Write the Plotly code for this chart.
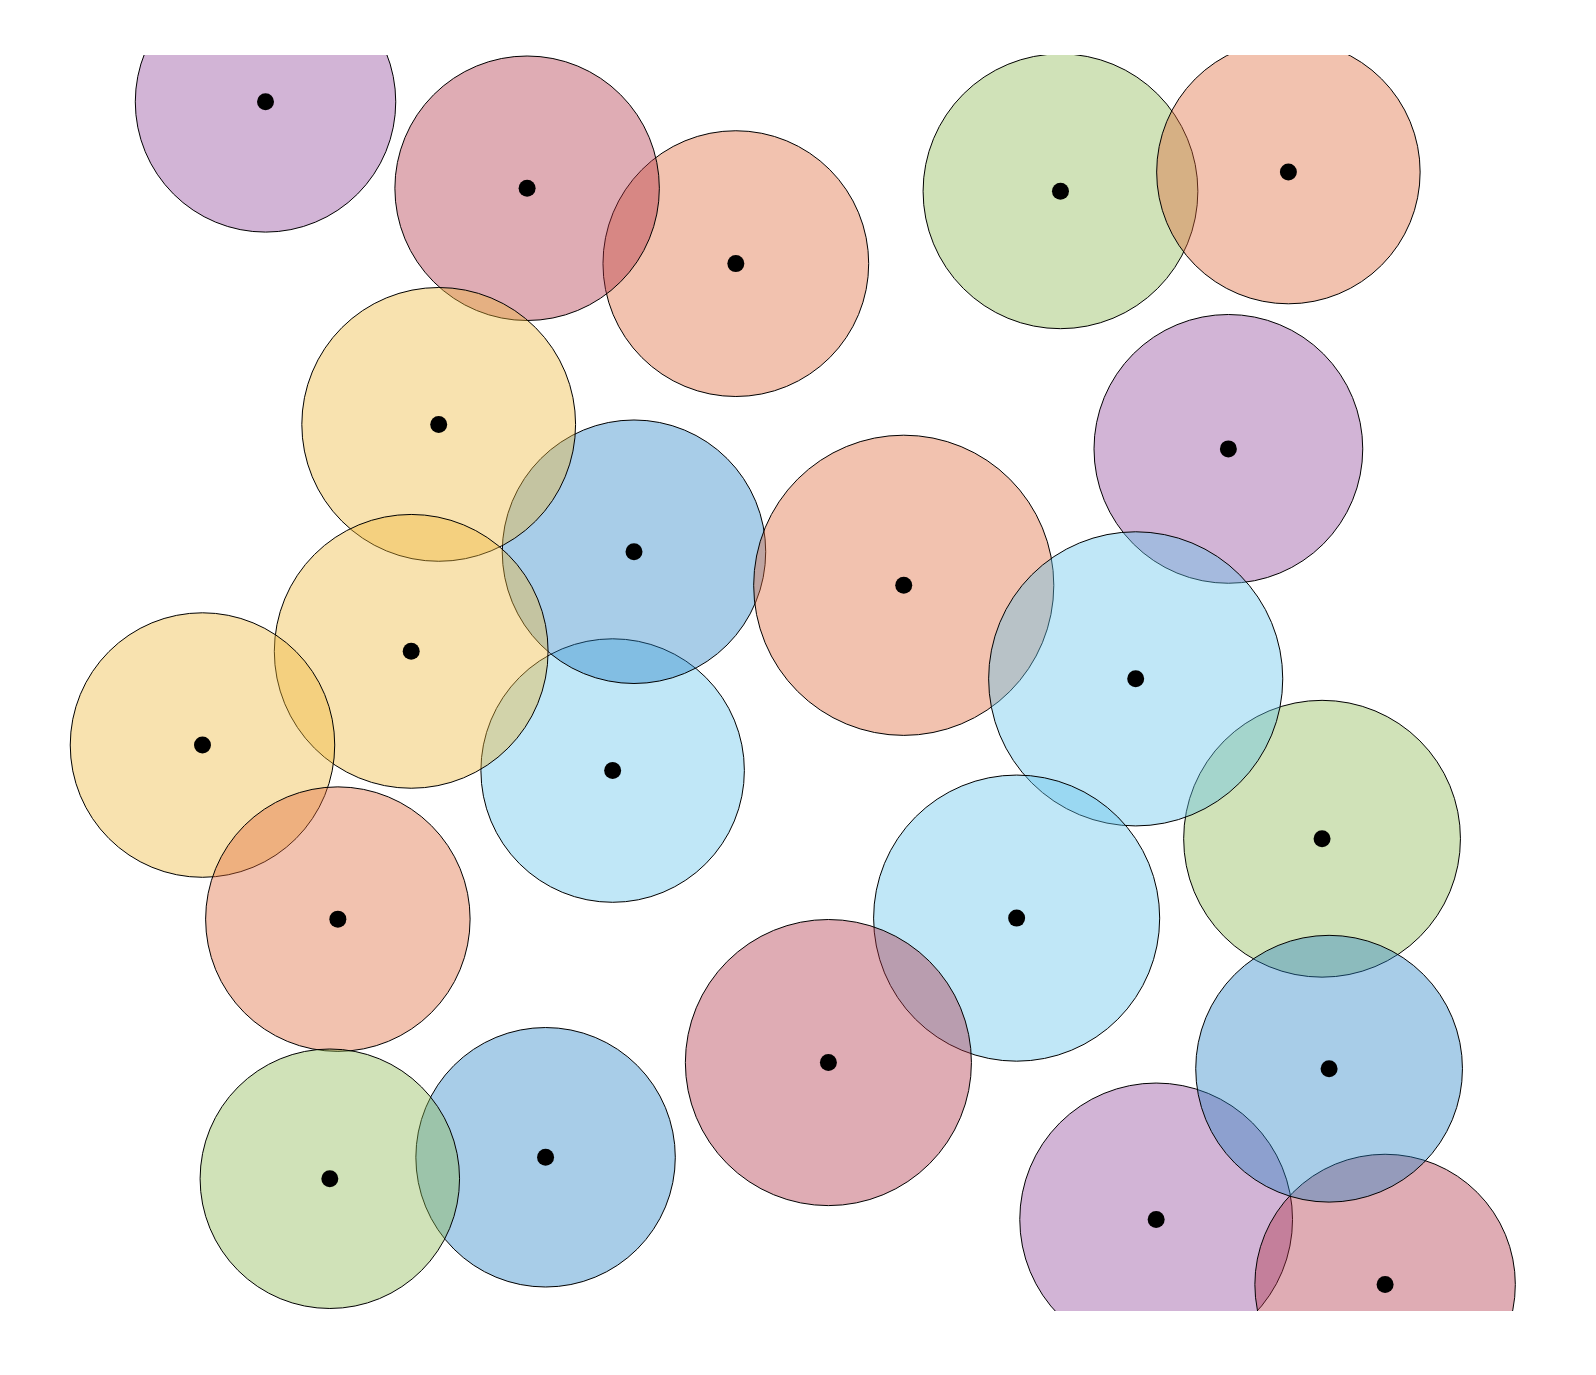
import plotly.graph_objects as go

# circle centres (data units), radii (data units) and colour groups, in drawing order
cx = [5.501, 3.839, 8.086, 9.901, 9.423, 10.169, 4.520, 4.690, 6.838, 8.685, 3.135,
      2.916, 1.254, 2.332, 7.737, 6.238, 8.848, 10.671, 10.225, 3.986, 2.268, 1.756]
cy = [8.339, 8.939, 8.915, 9.068, 6.864, 3.760, 4.303, 6.045, 5.778, 5.033, 7.059,
      5.252, 4.506, 3.120, 3.128, 1.978, 0.729, 0.211, 1.929, 1.224, 1.053, 9.627]
radius = [1.058, 1.053, 1.094, 1.049, 1.070, 1.102, 1.049, 1.049, 1.195, 1.171, 1.090,
          1.090, 1.053, 1.053, 1.139, 1.139, 1.086, 1.037, 1.062, 1.033, 1.033, 1.037]
group = ["salmon", "red", "green", "salmon", "purple", "green", "lightblue", "blue",
         "salmon", "lightblue", "yellow", "yellow", "yellow", "salmon", "lightblue",
         "red", "purple", "red", "blue", "blue", "green", "purple"]

palette = {
    "purple": (142, 67, 152),
    "red": (175, 47, 67),
    "salmon": (222, 102, 55),
    "green": (137, 182, 77),
    "yellow": (237, 182, 55),
    "blue": (37, 130, 197),
    "lightblue": (97, 195, 235),
}
ALPHA = 0.4

fig = go.Figure()

for x, y, r, g in zip(cx, cy, radius, group):
    c = palette[g]
    fig.add_shape(
        type="circle", xref="x", yref="y",
        x0=x - r, x1=x + r, y0=y - r, y1=y + r,
        fillcolor=f"rgba({c[0]},{c[1]},{c[2]},{ALPHA})",
        line=dict(color="black", width=1),
        layer="below",
    )

fig.add_trace(go.Scatter(
    x=cx, y=cy, mode="markers",
    marker=dict(color="black", size=17, line=dict(width=0)),
    hoverinfo="skip", showlegend=False,
))

fig.update_layout(
    width=1580, height=1360,
    margin=dict(l=37, r=36, t=47, b=57),
    paper_bgcolor="white", plot_bgcolor="white",
    showlegend=False,
)
fig.update_xaxes(range=[0, 12], visible=False, showgrid=False, zeroline=False)
fig.update_yaxes(range=[0, 10], visible=False, showgrid=False, zeroline=False)

fig.write_html("out.html")
